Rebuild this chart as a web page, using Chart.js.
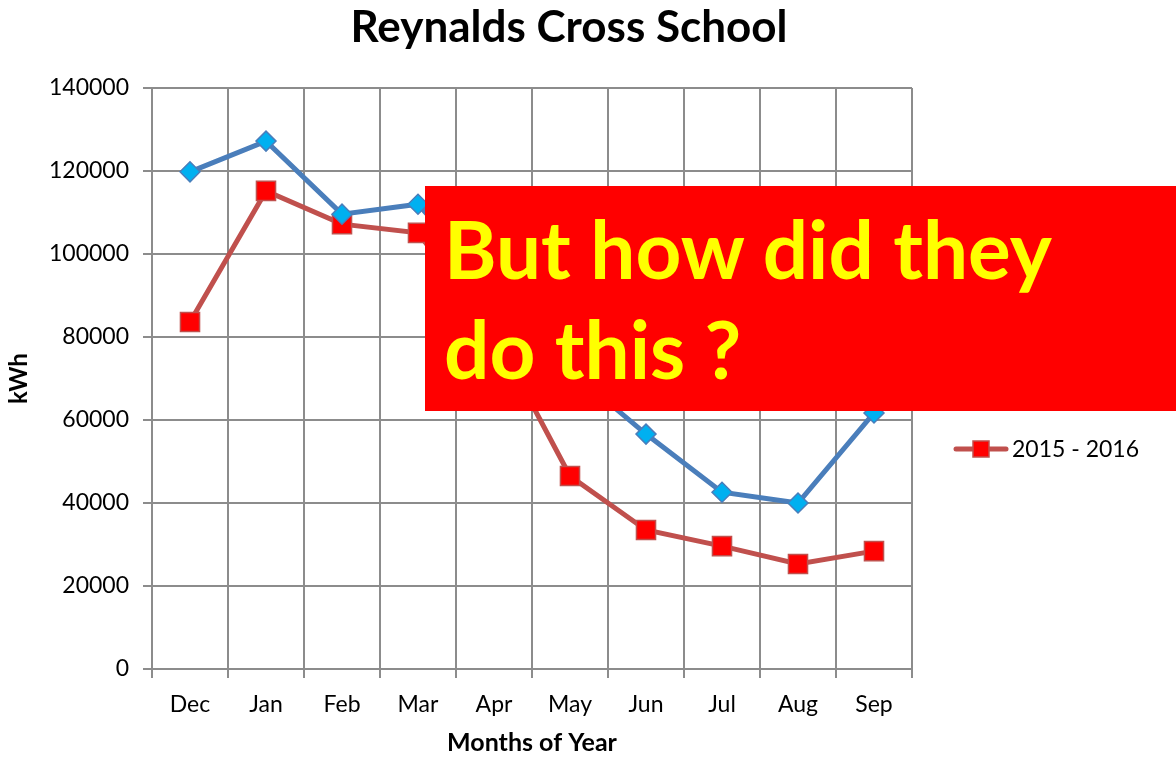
<!DOCTYPE html>
<html>
<head>
<meta charset="utf-8">
<script src="https://cdn.jsdelivr.net/npm/chart.js@4"></script>
<style>
  html, body { margin: 0; padding: 0; background: #fff; }
  #wrap { position: relative; width: 1176px; height: 758px; }
  #note {
    position: absolute; left: 425px; top: 186px; width: 751px; height: 225px;
    background: #ff0000; color: #ffff00; box-sizing: border-box;
    font-family: Lato, "Open Sans", sans-serif; font-weight: bold;
    font-size: 80px; line-height: 100px; padding: 12px 0 0 19px;
  }
</style>
</head>
<body>
<div id="wrap">
  <canvas id="c" width="1176" height="758"></canvas>
  <div id="note">But how did they<br>do this ?</div>
</div>
<script>
/* Reynalds Cross School — monthly kWh */

const MONTHS = ['Dec', 'Jan', 'Feb', 'Mar', 'Apr', 'May', 'Jun', 'Jul', 'Aug', 'Sep'];
const PREV_YEAR = [119800, 127200, 109600, 112000, 92000, 72000, 56600, 42600, 40000, 61700];
const YEAR_1516 = [83600, 115200, 107200, 105100, 81000, 46500, 33500, 29600, 25300, 28400];
const Y_TICKS = [0, 20000, 40000, 60000, 80000, 100000, 120000, 140000];

const FONT = 'Lato, "Open Sans", sans-serif';
const GRID = '#8c8c8c';

// title + the one legend entry left visible, drawn by hand so they sit where the original has them
const decor = {
  id: 'decor',
  afterDraw(chart) {
    const ctx = chart.ctx;
    ctx.save();
    ctx.fillStyle = '#000';
    ctx.font = `bold 44px ${FONT}`;
    ctx.textAlign = 'center';
    ctx.textBaseline = 'middle';
    ctx.fillText('Reynalds Cross School', 569, 28);

    const ly = 449;
    ctx.strokeStyle = '#c0504d';
    ctx.lineWidth = 5;
    ctx.lineCap = 'round';
    ctx.beginPath(); ctx.moveTo(956, ly); ctx.lineTo(1006, ly); ctx.stroke();
    ctx.fillStyle = '#ff0000';
    ctx.strokeStyle = '#c0504d';
    ctx.lineWidth = 1.5;
    ctx.fillRect(973, ly - 8, 16, 16);
    ctx.strokeRect(973, ly - 8, 16, 16);
    ctx.fillStyle = '#000';
    ctx.font = `23px ${FONT}`;
    ctx.textAlign = 'left';
    ctx.fillText('2015 - 2016', 1012, ly + 1);
    ctx.restore();
  }
};

new Chart(document.getElementById('c'), {
  type: 'line',
  data: {
    labels: MONTHS,
    datasets: [
      {
        label: '2014 - 2015', data: PREV_YEAR,
        borderColor: '#4a7ebb', borderWidth: 5,
        pointStyle: 'rectRot', pointRadius: 10, pointBackgroundColor: '#00b0f0',
        pointBorderColor: '#4a7ebb', pointBorderWidth: 1.5, tension: 0,
      },
      {
        label: '2015 - 2016', data: YEAR_1516,
        borderColor: '#c0504d', borderWidth: 5,
        pointStyle: 'rect', pointRadius: 13.5, pointBackgroundColor: '#ff0000',
        pointBorderColor: '#c0504d', pointBorderWidth: 1.5, tension: 0,
      },
    ],
  },
  options: {
    responsive: false, animation: false,
    layout: { padding: { top: 88, right: 264, left: 0, bottom: 0 } },
    plugins: { legend: { display: false }, title: { display: false }, tooltip: { enabled: false } },
    scales: {
      x: {
        offset: true,
        grid: { offset: true, color: GRID, lineWidth: 2, tickLength: 9, tickColor: GRID },
        border: { color: GRID, width: 2 },
        ticks: { color: '#000', font: { family: FONT, size: 23 }, padding: 13, maxRotation: 0 },
        title: { display: true, text: 'Months of Year', color: '#000', font: { family: FONT, size: 25, weight: 'bold' }, padding: { top: 2, bottom: 0 } },
        afterFit: s => { s.height = 89; },
      },
      y: {
        min: 0, max: 140000,
        afterBuildTicks: s => { s.ticks = Y_TICKS.map(v => ({ value: v })); },
        grid: { color: GRID, lineWidth: 2, tickLength: 9, tickColor: GRID },
        border: { color: GRID, width: 2 },
        ticks: { color: '#000', font: { family: FONT, size: 23 }, padding: 14, callback: v => String(v) },
        title: { display: true, text: 'kWh', color: '#000', font: { family: FONT, size: 24, weight: 'bold' }, padding: { top: 5, bottom: 0 } },
        afterFit: s => { s.width = 152; },
      },
    },
  },
  plugins: [decor],
});
</script>
</body>
</html>
